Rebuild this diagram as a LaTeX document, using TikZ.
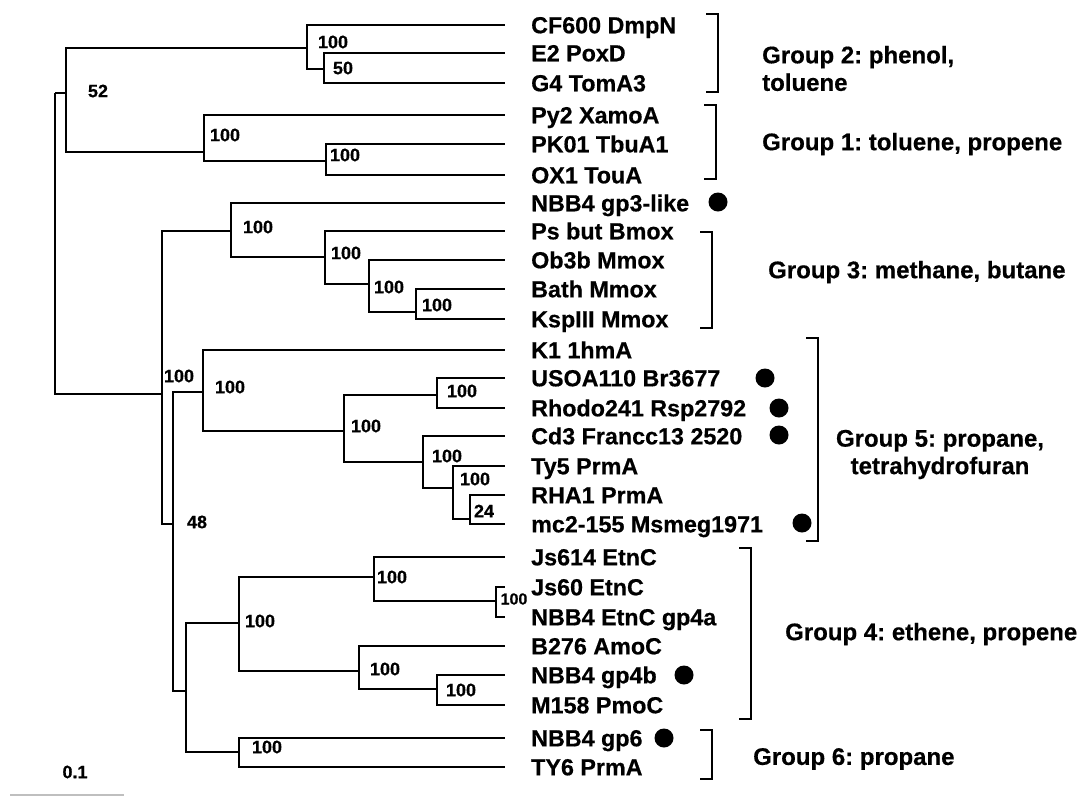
\documentclass[tikz,border=0pt]{standalone}
\usepackage{fontspec}
\setmainfont{Liberation Sans}[BoldFeatures={FakeBold=0.5}]
\frenchspacing
\begin{document}
\begin{tikzpicture}[x=1pt,y=-1pt,
  tree/.style={line width=2.5pt},
  leaf/.style={anchor=base west, inner sep=0pt, font=\fontsize{23.3}{28}\selectfont\bfseries},
  bs/.style={inner sep=0pt, font=\fontsize{18}{21}\selectfont\bfseries},
  grp/.style={inner sep=0pt, font=\fontsize{24}{27.5}\selectfont\bfseries},
  dotmark/.style={circle, fill=black, minimum size=19pt, inner sep=0pt},
  bracket/.style={line width=2.2pt}]
\useasboundingbox (0,0) rectangle (1083,796);
% leaf ends
\coordinate (l1) at (505,25);
\coordinate (l2) at (505,53);
\coordinate (l3) at (505,83);
\coordinate (l4) at (505,115);
\coordinate (l5) at (505,144);
\coordinate (l6) at (505,175);
\coordinate (l7) at (505,203);
\coordinate (l8) at (505,231);
\coordinate (l9) at (505,260);
\coordinate (l10) at (505,289);
\coordinate (l11) at (505,319);
\coordinate (l12) at (505,350);
\coordinate (l13) at (505,378);
\coordinate (l14) at (505,408);
\coordinate (l15) at (505,436);
\coordinate (l16) at (505,466);
\coordinate (l17) at (505,495);
\coordinate (l18) at (505,524);
\coordinate (l19) at (505,557);
\coordinate (l20) at (505,587);
\coordinate (l21) at (505,617);
\coordinate (l22) at (505,646);
\coordinate (l23) at (505,675);
\coordinate (l24) at (505,705);
\coordinate (l25) at (505,738);
\coordinate (l26) at (505,767);
% internal nodes (x, link y)
\coordinate (R) at (55,93);
\coordinate (A) at (66,93);
\coordinate (G2) at (307,48);
\coordinate (G2b) at (324,69);
\coordinate (G1) at (204,152);
\coordinate (G1b) at (326,161);
\coordinate (B) at (162,394);
\coordinate (G3a) at (231,231);
\coordinate (G3) at (325,257);
\coordinate (G3b) at (369,284);
\coordinate (G3c) at (416,312);
\coordinate (C) at (173,524);
\coordinate (G5) at (203,392);
\coordinate (G5b) at (344,431);
\coordinate (G5c) at (437,395);
\coordinate (G5d) at (423,462);
\coordinate (G5e) at (453,488);
\coordinate (G5f) at (470,519);
\coordinate (D) at (186,691);
\coordinate (G4) at (239,623);
\coordinate (G4a) at (374,577);
\coordinate (G4b) at (496,601);
\coordinate (G4c) at (359,671);
\coordinate (G4d) at (437,689);
\coordinate (G6) at (239,752);
% branches
\draw[tree] (R) |- (A);
\draw[tree] (R) |- (B);
\draw[tree] (A) |- (G2);
\draw[tree] (A) |- (G1);
\draw[tree] (G2) |- (l1);
\draw[tree] (G2) |- (G2b);
\draw[tree] (G2b) |- (l2);
\draw[tree] (G2b) |- (l3);
\draw[tree] (G1) |- (l4);
\draw[tree] (G1) |- (G1b);
\draw[tree] (G1b) |- (l5);
\draw[tree] (G1b) |- (l6);
\draw[tree] (B) |- (G3a);
\draw[tree] (B) |- (C);
\draw[tree] (G3a) |- (l7);
\draw[tree] (G3a) |- (G3);
\draw[tree] (G3) |- (l8);
\draw[tree] (G3) |- (G3b);
\draw[tree] (G3b) |- (l9);
\draw[tree] (G3b) |- (G3c);
\draw[tree] (G3c) |- (l10);
\draw[tree] (G3c) |- (l11);
\draw[tree] (C) |- (G5);
\draw[tree] (C) |- (D);
\draw[tree] (G5) |- (l12);
\draw[tree] (G5) |- (G5b);
\draw[tree] (G5b) |- (G5c);
\draw[tree] (G5b) |- (G5d);
\draw[tree] (G5c) |- (l13);
\draw[tree] (G5c) |- (l14);
\draw[tree] (G5d) |- (l15);
\draw[tree] (G5d) |- (G5e);
\draw[tree] (G5e) |- (l16);
\draw[tree] (G5e) |- (G5f);
\draw[tree] (G5f) |- (l17);
\draw[tree] (G5f) |- (l18);
\draw[tree] (D) |- (G4);
\draw[tree] (D) |- (G6);
\draw[tree] (G4) |- (G4a);
\draw[tree] (G4) |- (G4c);
\draw[tree] (G4a) |- (l19);
\draw[tree] (G4a) |- (G4b);
\draw[tree] (G4b) |- (l20);
\draw[tree] (G4b) |- (l21);
\draw[tree] (G4c) |- (l22);
\draw[tree] (G4c) |- (G4d);
\draw[tree] (G4d) |- (l23);
\draw[tree] (G4d) |- (l24);
\draw[tree] (G6) |- (l25);
\draw[tree] (G6) |- (l26);
% bootstrap values
\node[bs] (b1) at (98,91) {52};
\node[bs] (b2) at (333,42) {100};
\node[bs] (b3) at (343,68) {50};
\node[bs] (b4) at (225,135) {100};
\node[bs] (b5) at (345,155) {100};
\node[bs] (b6) at (258,227) {100};
\node[bs] (b7) at (346,253) {100};
\node[bs] (b8) at (389,287) {100};
\node[bs] (b9) at (437,305) {100};
\node[bs] (b10) at (179,376) {100};
\node[bs] (b11) at (230,387) {100};
\node[bs] (b12) at (462,391) {100};
\node[bs] (b13) at (366,426) {100};
\node[bs] (b14) at (447,456) {100};
\node[bs] (b15) at (475,479) {100};
\node[bs] (b16) at (484,511) {24};
\node[bs] (b17) at (197,522) {48};
\node[bs] (b18) at (392,577) {100};
\node[bs, font=\fontsize{16}{18}\selectfont\bfseries] (b19) at (514,599) {100};
\node[bs] (b20) at (260,621) {100};
\node[bs] (b21) at (385,669) {100};
\node[bs] (b22) at (461,690) {100};
\node[bs] (b23) at (267,747) {100};
% leaf labels
\node[leaf] (t1) at (531,33.3) {CF600 DmpN};
\node[leaf] (t2) at (531,61.3) {E2 PoxD};
\node[leaf] (t3) at (531,91.3) {G4 TomA3};
\node[leaf] (t4) at (531,123.3) {Py2 XamoA};
\node[leaf] (t5) at (531,152.3) {PK01 TbuA1};
\node[leaf] (t6) at (531,183.3) {OX1 TouA};
\node[leaf] (t7) at (531,211.3) {NBB4 gp3-like};
\node[leaf] (t8) at (531,239.3) {Ps but Bmox};
\node[leaf] (t9) at (531,268.3) {Ob3b Mmox};
\node[leaf] (t10) at (531,297.3) {Bath Mmox};
\node[leaf] (t11) at (531,327.3) {KspIII Mmox};
\node[leaf] (t12) at (531,358.3) {K1 1hmA};
\node[leaf] (t13) at (531,386.3) {USOA110 Br3677};
\node[leaf] (t14) at (531,416.3) {Rhodo241 Rsp2792};
\node[leaf] (t15) at (531,444.3) {Cd3 Francc13 2520};
\node[leaf] (t16) at (531,474.3) {Ty5 PrmA};
\node[leaf] (t17) at (531,503.3) {RHA1 PrmA};
\node[leaf] (t18) at (531,532.3) {mc2-155 Msmeg1971};
\node[leaf] (t19) at (531,565.3) {Js614 EtnC};
\node[leaf] (t20) at (531,595.3) {Js60 EtnC};
\node[leaf] (t21) at (531,625.3) {NBB4 EtnC gp4a};
\node[leaf] (t22) at (531,654.3) {B276 AmoC};
\node[leaf] (t23) at (531,683.3) {NBB4 gp4b};
\node[leaf] (t24) at (531,713.3) {M158 PmoC};
\node[leaf] (t25) at (531,746.3) {NBB4 gp6};
\node[leaf] (t26) at (531,775.3) {TY6 PrmA};
% dots
\node[dotmark] (d1) at (718,202) {};
\node[dotmark] (d2) at (765,378) {};
\node[dotmark] (d3) at (779,408) {};
\node[dotmark] (d4) at (779,435) {};
\node[dotmark] (d5) at (802,523) {};
\node[dotmark] (d6) at (684,675) {};
\node[dotmark] (d7) at (664,738) {};
% brackets
\draw[bracket] (706,14) -- (718,14) -- (718,92) -- (706,92);
\draw[bracket] (704,105) -- (716,105) -- (716,179) -- (704,179);
\draw[bracket] (700,232) -- (712,232) -- (712,328) -- (700,328);
\draw[bracket] (806,338) -- (818,338) -- (818,541) -- (806,541);
\draw[bracket] (739,548) -- (751,548) -- (751,719) -- (739,719);
\draw[bracket] (700,730) -- (712,730) -- (712,779) -- (700,779);
% group labels
\node[grp, anchor=west, align=left] (g2) at (762,68.5) {Group 2: phenol,\\toluene};
\node[grp, anchor=west] (g1) at (762,144) {Group 1: toluene, propene};
\node[grp, anchor=west] (g3) at (768,272) {Group 3: methane, butane};
\node[grp, align=center] (g5) at (940,454.5) {Group 5: propane,\\tetrahydrofuran};
\node[grp, anchor=west] (g4) at (785,634) {Group 4: ethene, propene};
\node[grp, anchor=west] (g6) at (753,759) {Group 6: propane};
% scale bar
\node[bs] (sc) at (75,772) {0.1};
\coordinate (s1) at (10,795);
\coordinate (s2) at (124,795);
\draw[line width=1.5pt, black!25] (s1) -- (s2);
\end{tikzpicture}
\end{document}
